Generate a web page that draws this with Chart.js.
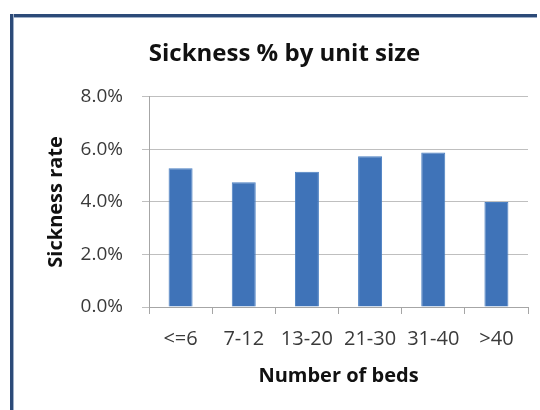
<!DOCTYPE html>
<html>
<head>
<meta charset="utf-8">
<script src="https://cdn.jsdelivr.net/npm/chart.js@4"></script>
<style>
    html, body { margin: 0; padding: 0; background: #ffffff; overflow: hidden; }
    #wrap { position: relative; width: 540px; height: 410px; overflow: hidden; background: #ffffff; }
    .edge { position: absolute; background: #2c4a78; pointer-events: none; }
    #edgeTop { left: 10px; top: 14px; width: 527px; height: 3px; border-bottom: 1px solid #9fb0c8; }
    #edgeLeft { left: 10px; top: 14px; width: 3px; height: 396px; border-right: 1px solid #9fb0c8; }
    canvas { position: absolute; left: 0; top: 0; }
</style>
</head>
<body>
<div id="wrap">
    <canvas id="sicknessChart" width="540" height="410"></canvas>
    <div class="edge" id="edgeTop"></div>
    <div class="edge" id="edgeLeft"></div>
</div>
<script>
const categories = ['<=6', '7-12', '13-20', '21-30', '31-40', '>40'];
const sicknessRate = [5.28, 4.75, 5.15, 5.74, 5.88, 4.0]; // percent
const yTicks = [0, 2, 4, 6, 8];

document.addEventListener('DOMContentLoaded', () => {
    const ctx = document.getElementById('sicknessChart').getContext('2d');
    const fontFamily = '"Open Sans", Lato, sans-serif';

    new Chart(ctx, {
        type: 'bar',
        data: {
            labels: categories,
            datasets: [{
                label: 'Sickness rate',
                data: sicknessRate,
                backgroundColor: '#3f73b8',
                borderColor: '#4a7fc2',
                borderWidth: 1,
                categoryPercentage: 1,
                barPercentage: 0.38
            }]
        },
        options: {
            responsive: false,
            animation: false,
            layout: { padding: { left: 41, right: 12, top: 30, bottom: 19 } },
            plugins: {
                legend: { display: false },
                tooltip: { enabled: false },
                title: {
                    display: true,
                    text: 'Sickness % by unit size',
                    color: '#111111',
                    font: { family: fontFamily, size: 24, weight: 'bold' },
                    padding: { top: 10, bottom: 28 }
                }
            },
            scales: {
                x: {
                    grid: {
                        offset: true,
                        drawOnChartArea: false,
                        drawTicks: true,
                        tickLength: 7,
                        color: '#a6a6a6'
                    },
                    border: { color: '#a6a6a6' },
                    ticks: {
                        color: '#3a3a3a',
                        padding: 13,
                        maxRotation: 0,
                        autoSkip: false,
                        font: { family: fontFamily, size: 20 }
                    },
                    title: {
                        display: true,
                        text: 'Number of beds',
                        color: '#111111',
                        font: { family: fontFamily, size: 20, weight: 'bold' },
                        padding: { top: 8, bottom: 3 }
                    },
                    afterFit: (scale) => { scale.height = 84; }
                },
                y: {
                    min: yTicks[0],
                    max: yTicks[yTicks.length - 1],
                    afterBuildTicks: (scale) => {
                        scale.ticks = yTicks.map(v => ({ value: v }));
                    },
                    grid: {
                        color: '#bfbfbf',
                        drawTicks: true,
                        tickLength: 7
                    },
                    border: { color: '#a6a6a6' },
                    ticks: {
                        color: '#3a3a3a',
                        padding: 19,
                        font: { family: fontFamily, size: 19 },
                        callback: (v) => Number(v).toFixed(1) + '%'
                    },
                    title: {
                        display: true,
                        text: 'Sickness rate',
                        color: '#111111',
                        font: { family: fontFamily, size: 20, weight: 'bold' },
                        padding: { top: 3, bottom: 10 }
                    },
                    afterFit: (scale) => { scale.width = 108; }
                }
            }
        }
    });
});
</script>
</body>
</html>
